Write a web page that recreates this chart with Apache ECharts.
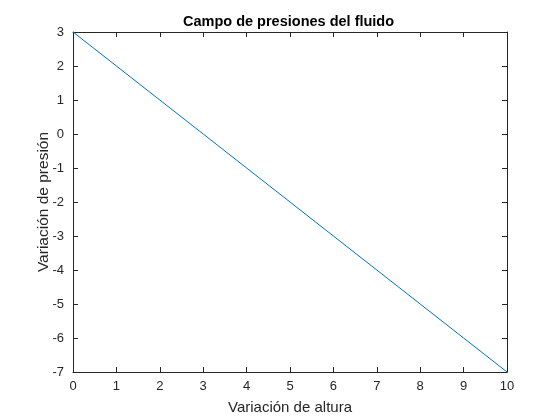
<!DOCTYPE html>
<html><head><meta charset="utf-8">
<script src="https://cdn.jsdelivr.net/npm/echarts@6/dist/echarts.min.js"></script>
<style>html,body{margin:0;padding:0;background:#fff}#c{width:560px;height:420px}</style>
</head><body><div id="c"></div>
<script>
const xValues = [0, 1, 2, 3, 4, 5, 6, 7, 8, 9, 10];
const pressureValues = [3, 2, 1, 0, -1, -2, -3, -4, -5, -6, -7];
const titleText = 'Campo de presiones del fluido';
const xName = 'Variación de altura';
const yName = 'Variación de presión';

const chart = echarts.init(document.getElementById('c'), null, {renderer: 'canvas'});
const font = 'Liberation Sans, Arial, Helvetica, sans-serif';
const axisCol = '#262626';
const baseAxis = {
  axisLine: {show: true, onZero: false, lineStyle: {color: axisCol, width: 1}},
  axisTick: {show: true, inside: true, length: 5, lineStyle: {color: axisCol}},
  splitLine: {show: false},
  axisLabel: {color: axisCol, fontFamily: font, fontSize: 13}
};
chart.setOption({
  animation: false,
  title: {text: titleText, left: 178, top: 9,
    textStyle: {fontFamily: font, fontSize: 14.5, fontWeight: 'bold', color: '#000'}},
  grid: {left: 73, right: 53, top: 32, bottom: 47},
  xAxis: [
    Object.assign({}, baseAxis, {type: 'value', min: 0, max: 10, interval: 1, position: 'bottom',
      name: xName, nameLocation: 'middle', nameGap: 28,
      nameTextStyle: {fontFamily: font, fontSize: 15, color: axisCol},
      axisLabel: Object.assign({}, baseAxis.axisLabel, {margin: 8})}),
    Object.assign({}, baseAxis, {type: 'value', min: 0, max: 10, interval: 1, position: 'top',
      axisLabel: {show: false}})
  ],
  yAxis: [
    Object.assign({}, baseAxis, {type: 'value', min: -7, max: 3, interval: 1, position: 'left',
      name: yName, nameLocation: 'middle', nameGap: 21, nameMoveOverlap: false,
      nameTextStyle: {fontFamily: font, fontSize: 15.5, color: axisCol},
      axisLabel: Object.assign({}, baseAxis.axisLabel, {margin: 9})}),
    Object.assign({}, baseAxis, {type: 'value', min: -7, max: 3, interval: 1, position: 'right',
      axisLabel: {show: false}})
  ],
  series: [{
    type: 'line',
    data: xValues.map((x, i) => [x, pressureValues[i]]),
    showSymbol: false,
    lineStyle: {color: '#0072BD', width: 1}
  }]
});
</script></body></html>
